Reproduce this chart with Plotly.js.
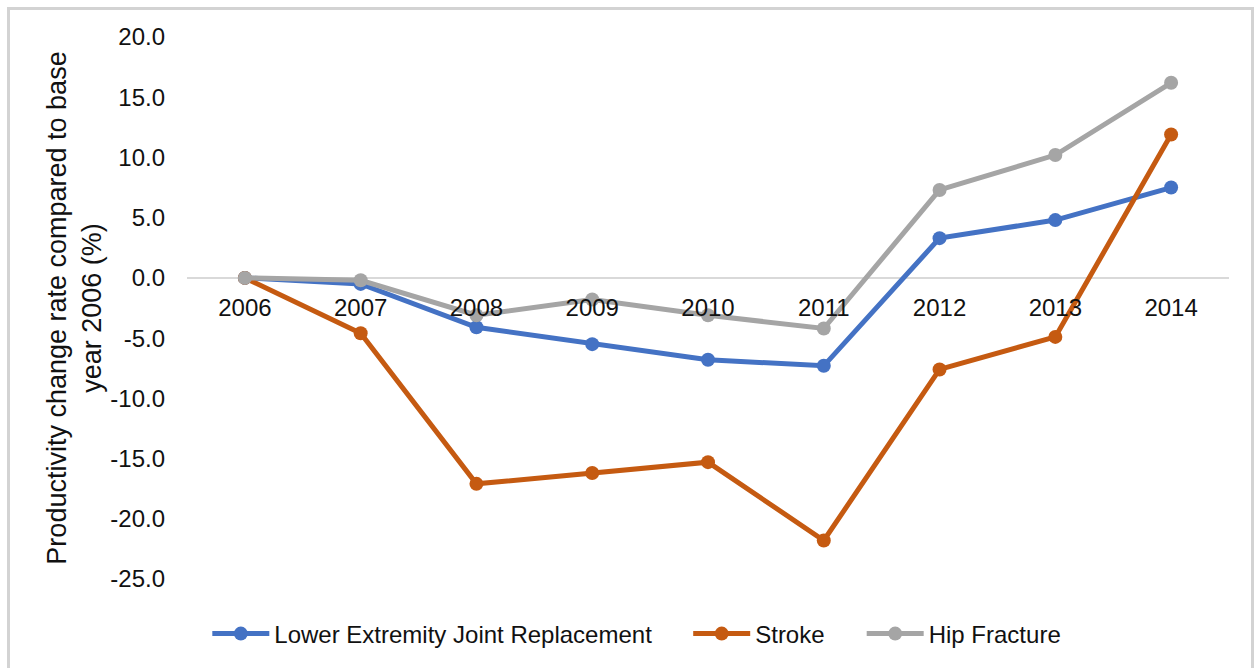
<!DOCTYPE html>
<html>
<head>
<meta charset="utf-8">
<script src="https://cdn.plot.ly/plotly-3.0.1.min.js"></script>
<style>
html,body{margin:0;padding:0;background:#fff;}
#wrap{position:relative;width:1259px;height:668px;overflow:hidden;}
#chart{width:1259px;height:668px;}
#frame{position:absolute;left:7px;top:7px;width:1247px;height:680px;border:3px solid #d3d3d3;pointer-events:none;box-sizing:border-box;}
</style>
</head>
<body>
<div id="wrap"><div id="chart"></div><div id="frame"></div></div>
<script>
const years = ["2006","2007","2008","2009","2010","2011","2012","2013","2014"];
const lejr = [0, -0.5, -4.1, -5.5, -6.8, -7.3, 3.3, 4.8, 7.5];
const stroke = [0, -4.6, -17.1, -16.2, -15.3, -21.8, -7.6, -4.9, 11.9];
const hip = [0, -0.2, -3.1, -1.8, -3.1, -4.2, 7.3, 10.2, 16.2];
const seriesNames = ["Lower Extremity Joint Replacement", "Stroke", "Hip Fracture"];
const colors = ["#4472C4", "#C55A11", "#A5A5A5"];
const yTickVals = [20, 15, 10, 5, 0, -5, -10, -15, -20, -25];
const yTickText = ["20.0", "15.0", "10.0", "5.0", "0.0", "-5.0", "-10.0", "-15.0", "-20.0", "-25.0"];
const yTitle = "Productivity change rate compared to base<br>year 2006 (%)";

const font = "Liberation Sans, Arial, sans-serif";
const legendIds = ["legend", "legend2", "legend3"];
const mk = (y, i) => ({
  x: years, y: y, name: seriesNames[i], type: "scatter", mode: "lines+markers",
  legend: legendIds[i],
  line: {color: colors[i], width: 5},
  marker: {color: colors[i], size: 14}
});
const data = [mk(lejr,0), mk(stroke,1), mk(hip,2)];
const legBase = (x) => ({orientation: "h", x: x, xanchor: "left", y: -0.06, yanchor: "top",
  font: {family: font, size: 24, color: "#111"}, itemwidth: 57, bgcolor: "rgba(0,0,0,0)"});
const layout = {
  width: 1259, height: 668,
  margin: {l: 187, r: 30, t: 37, b: 84},
  paper_bgcolor: "#fff", plot_bgcolor: "#fff",
  font: {family: font, size: 24, color: "#111"},
  showlegend: true,
  legend: legBase(0.0195),
  legend2: legBase(0.481),
  legend3: legBase(0.6475),
  xaxis: {type: "category", anchor: "free", position: 25/45,
          showgrid: false, zeroline: false, showline: false,
          ticks: "", ticklabelstandoff: 13, tickfont: {size: 24, color: "#111"},
          range: [-0.5, 8.5], fixedrange: true},
  yaxis: {range: [-25, 20], tickvals: yTickVals, ticktext: yTickText, showgrid: false,
          zeroline: true, zerolinecolor: "#d9d9d9", zerolinewidth: 2,
          showline: false, ticks: "", ticklabelstandoff: 21,
          tickfont: {size: 24, color: "#111"},
          title: {text: yTitle, font: {size: 27, color: "#111"}, standoff: 0}}
};
Plotly.newPlot("chart", data, layout, {displayModeBar: false, staticPlot: true});
</script>
</body>
</html>
